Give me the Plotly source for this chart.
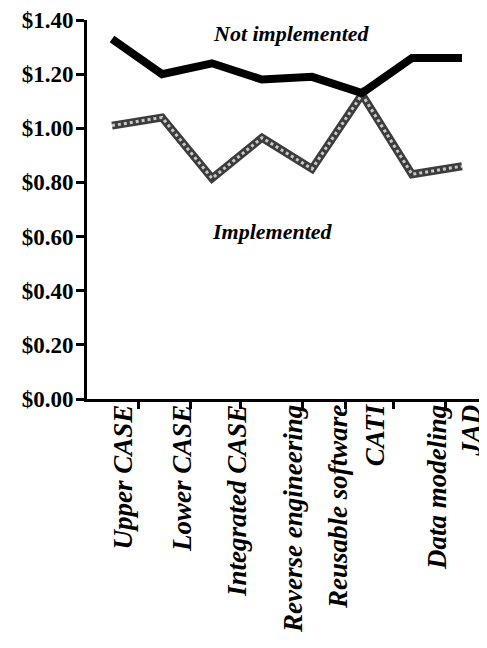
import plotly.graph_objects as go

# Cost per unit
categories = ["Upper CASE", "Lower CASE", "Integrated CASE", "Reverse engineering",
              "Reusable software", "CATI", "Data modeling", "JAD"]
not_implemented = [1.33, 1.20, 1.24, 1.18, 1.19, 1.13, 1.26, 1.26]
implemented = [1.01, 1.04, 0.815, 0.965, 0.85, 1.125, 0.83, 0.86]

# where the rotated labels and the small tick marks sit (in category units)
label_pos = [0.22, 1.40, 2.50, 3.62, 4.52, 5.26, 6.50, 7.18]
tick_pos = [0.52, 1.56, 2.56, 3.80, 4.66, 5.62, 6.66]

SERIF = "Liberation Serif"
xs = list(range(len(categories)))

fig = go.Figure()

# Implemented: dithered grey line -> dark band with a light dotted core
fig.add_trace(go.Scatter(x=xs, y=implemented, mode="lines", name="Implemented",
                         line=dict(color="#3c3c3c", width=8), hoverinfo="skip"))
fig.add_trace(go.Scatter(x=xs, y=implemented, mode="lines", showlegend=False,
                         line=dict(color="#c8c8c8", width=3, dash="dot")))

fig.add_trace(go.Scatter(x=xs, y=not_implemented, mode="lines", name="Not implemented",
                         line=dict(color="black", width=8)))

fig.add_annotation(x=3.58, y=1.35, text="Not implemented", showarrow=False,
                   font=dict(family=SERIF, size=22, color="black", weight="bold", style="italic"))
fig.add_annotation(x=3.2, y=0.62, text="Implemented", showarrow=False,
                   font=dict(family=SERIF, size=22, color="black", weight="bold", style="italic"))

# the page body has an 8px margin, so the plot box is pulled up/left by 8px
fig.update_layout(
    width=487, height=648,
    margin=dict(l=79, r=0, t=12, b=257, autoexpand=False),
    paper_bgcolor="white", plot_bgcolor="white",
    showlegend=False,
)

fig.update_yaxes(range=[0, 1.4], dtick=0.2, tickprefix="$", tickformat=".2f",
                 showline=True, linewidth=3, linecolor="black",
                 ticks="outside", ticklen=8, tickwidth=2.5, tickcolor="black",
                 showgrid=False, zeroline=False, ticklabelstandoff=-2,
                 ticklabeloverflow="allow",
                 tickfont=dict(family=SERIF, size=23, color="black", weight="bold"))

fig.update_xaxes(range=[-0.5, 7.66], tickmode="array", tickvals=label_pos, ticktext=categories,
                 tickangle=-90, ticks="", showline=True, linewidth=3, linecolor="black",
                 showgrid=False, zeroline=False, ticklabeloverflow="allow",
                 ticklabelstandoff=-8,
                 minor=dict(tickmode="array", tickvals=tick_pos, ticks="outside",
                            ticklen=7, tickwidth=2.5, tickcolor="black", showgrid=False),
                 tickfont=dict(family=SERIF, size=27, color="black", weight="bold", style="italic"))

fig.write_html("out.html")
